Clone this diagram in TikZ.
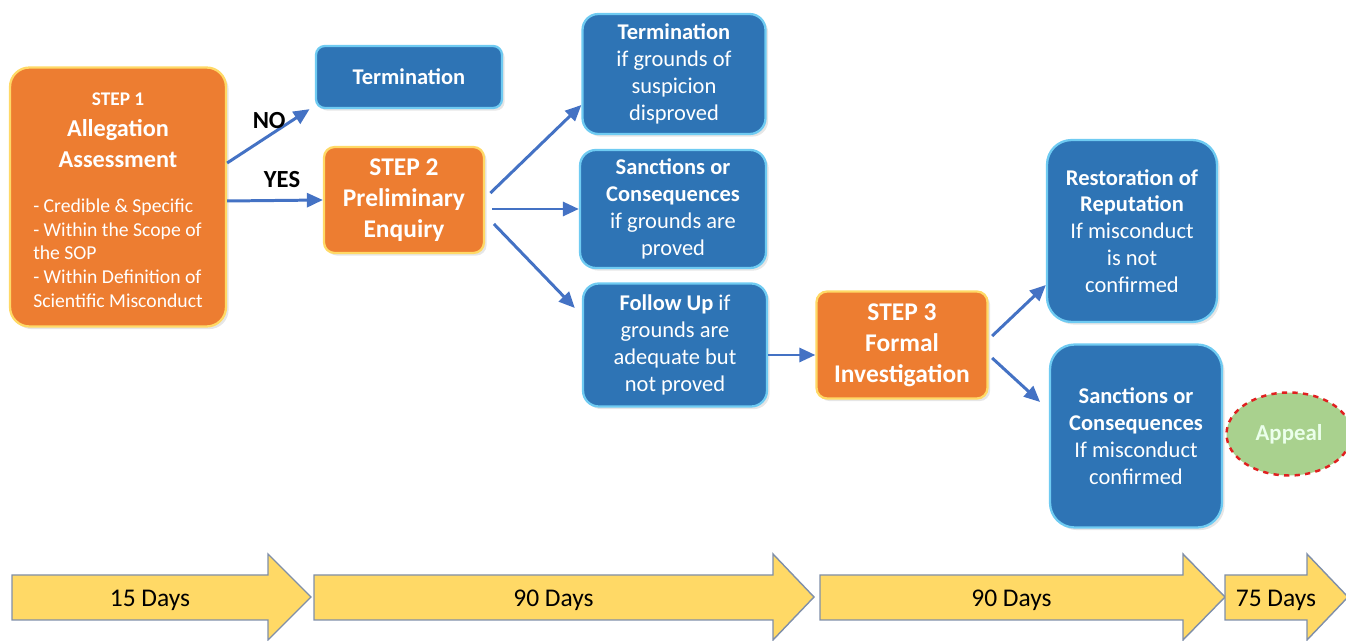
\documentclass[tikz,border=0pt]{standalone}
\usepackage{fontspec}
\setmainfont{Carlito}
\usepackage{xcolor}
\usetikzlibrary{positioning,arrows.meta,shapes.geometric,shadows}
\definecolor{stepOrange}{HTML}{ED7D31}
\definecolor{glowYellow}{HTML}{FFD966}
\definecolor{boxBlue}{HTML}{2E74B5}
\definecolor{glowCyan}{HTML}{6FCBF2}
\definecolor{arrowBlue}{HTML}{4472C4}
\definecolor{dayYellow}{HTML}{FFD966}
\definecolor{dayEdge}{HTML}{7F8FA9}
\definecolor{appealGreen}{HTML}{A9D18E}
\definecolor{appealRed}{HTML}{E02020}

\begin{document}
\begin{tikzpicture}[
  x=0.02cm, y=-0.02cm,
  every node/.style={font=\fontsize{12.8}{15.3}\selectfont, text=white, align=center},
  stepbox/.style={draw=glowYellow, line width=1.3pt, fill=stepOrange, rounded corners=6pt,
                  font=\bfseries\fontsize{14.5}{17.6}\selectfont,
                  drop shadow={opacity=0.2, shadow xshift=1.5pt, shadow yshift=-1.5pt}},
  outbox/.style={draw=glowCyan, line width=1.3pt, fill=boxBlue, rounded corners=9pt,
                 drop shadow={opacity=0.2, shadow xshift=1.5pt, shadow yshift=-1.5pt}},
  arr/.style={-{Triangle[length=3.2mm, width=2.8mm]}, line width=1.7pt, draw=arrowBlue},
  dayarrow/.style={draw=dayEdge, fill=dayYellow, line width=0.8pt},
  daytext/.style={text=black, font=\fontsize{14.5}{16}\selectfont},
  answer/.style={text=black, font=\bfseries\fontsize{14}{15}\selectfont},
]
  \useasboundingbox (0,0) rectangle (1346,641);

  % Step 1 and its two outcomes
  \node[stepbox, minimum width=4.32cm, minimum height=5.18cm, rounded corners=11pt] (step1) at (118,197)
    {\rule{0pt}{15pt}{\fontsize{11}{13}\selectfont STEP 1}\\
     {\fontsize{13.8}{17}\selectfont Allegation}\\
     {\fontsize{13.8}{17}\selectfont Assessment}\\[8pt]
     {\mdseries\fontsize{11.2}{13.6}\selectfont
      \begin{tabular}[t]{@{}l@{}}
        - Credible \& Specific\\- Within the Scope of\\the SOP\\- Within Definition of\\Scientific Misconduct
      \end{tabular}}};
  \node[outbox, minimum width=3.72cm, minimum height=1.24cm, rounded corners=5pt,
        font=\bfseries\fontsize{12.8}{15.3}\selectfont] (term1) at (409,77) {Termination};
  \node[stepbox, minimum width=3.2cm, minimum height=2.12cm] (step2) at (404,200)
    {STEP 2\\Preliminary\\Enquiry};

  % Outcomes of the preliminary enquiry
  \node[outbox, minimum width=3.66cm, minimum height=2.4cm] (term2) at (674,74)
    {\textbf{Termination}\\if grounds of\\suspicion\\disproved};
  \node[outbox, minimum width=3.72cm, minimum height=2.36cm] (sanc1) at (673,209)
    {\textbf{Sanctions or}\\\textbf{Consequences}\\if grounds are\\proved};
  \node[outbox, minimum width=3.68cm, minimum height=2.46cm] (follow) at (675,345)
    {\textbf{Follow Up} if\\grounds are\\adequate but\\not proved};

  % Step 3 and its outcomes
  \node[stepbox, minimum width=3.42cm, minimum height=2.14cm] (step3) at (902,345)
    {STEP 3\\Formal\\Investigation};
  \node[outbox, minimum width=3.4cm, minimum height=3.64cm, rounded corners=14pt] (restore) at (1132,231)
    {\textbf{Restoration of}\\\textbf{Reputation}\\If misconduct\\is not\\confirmed};
  \node[outbox, minimum width=3.44cm, minimum height=3.66cm, rounded corners=14pt] (sanc2) at (1136,436)
    {\textbf{Sanctions or}\\\textbf{Consequences}\\If misconduct\\confirmed};
  \node[ellipse, draw=appealRed, dashed, line width=1.4pt, fill=appealGreen,
        minimum width=2.5cm, minimum height=1.66cm, text=green!8,
        font=\bfseries\fontsize{13}{15}\selectfont] (appeal) at (1289,434) {Appeal};

  % Connectors
  \draw[arr] ([yshift=0.68cm]step1.east) -- node[answer, above left=0pt and -14pt]{NO} ([xshift=-3pt]term1.south west);
  \draw[arr] ([yshift=-0.08cm]step1.east) -- node[answer, above=3pt, xshift=4pt]{YES} (step2.west);
  \draw[arr] ([xshift=3pt, yshift=0.14cm]step2.east) -- ([yshift=-0.62cm]term2.west);
  \draw[arr] ([xshift=4pt]step2.east |- sanc1.west) -- (sanc1.west);
  \draw[arr] ([xshift=5pt, yshift=-0.48cm]step2.east) -- ([xshift=-4pt, yshift=0.74cm]follow.west);
  \draw[arr] ([yshift=-0.2cm]follow.east) -- ([yshift=-0.2cm]step3.west);
  \draw[arr] ([xshift=2pt, yshift=0.18cm]step3.east) -- ([yshift=-1.08cm]restore.west);
  \draw[arr] ([xshift=2pt, yshift=-0.26cm]step3.east) -- ([xshift=-5pt, yshift=0.68cm]sanc2.west);

  % Time line
  \foreach \xa/\xb/\xc/\lbl [count=\i] in {12/268/311/15 Days, 314/773/814/90 Days,
                                          820/1183/1225/90 Days, 1225/1307/1348/75 Days} {
    \draw[dayarrow] (\xa,575) -- (\xb,575) -- (\xb,554) -- (\xc,597) -- (\xb,640)
                    -- (\xb,620) -- (\xa,620) -- cycle;
    \node[daytext] (day\i) at ({(\xa+\xb)/2+10},600) {\lbl};
  }
\end{tikzpicture}
\end{document}
